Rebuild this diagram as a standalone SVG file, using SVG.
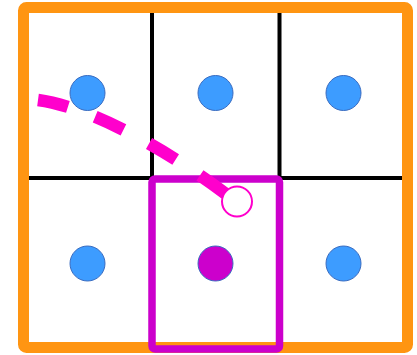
<svg xmlns="http://www.w3.org/2000/svg" width="417" height="355" viewBox="0 0 417 355">
<style>
.cell{fill:#fff}
.grid{stroke:#000;stroke-width:4;fill:none}
.dot{fill:#3d9cff;stroke:#3a6cc0;stroke-width:1}
</style>
<rect width="417" height="355" fill="#fff"/>
<g id="frame">
<rect x="23.5" y="7.5" width="384" height="340" rx="3" fill="#fff" stroke="#ff9512" stroke-width="11"/>
</g>
<g id="grid">
<line class="grid" x1="152" y1="13" x2="152" y2="178"/>
<line class="grid" x1="279.5" y1="13" x2="279.5" y2="178"/>
<line class="grid" x1="29" y1="178" x2="402" y2="178"/>
</g>
<g id="n1"><circle class="dot" cx="87.5" cy="93" r="17.5"/></g>
<g id="n2"><circle class="dot" cx="215.5" cy="93" r="17.5"/></g>
<g id="n3"><circle class="dot" cx="343.5" cy="93" r="17.5"/></g>
<g id="n4"><circle class="dot" cx="87.5" cy="263.5" r="17.5"/></g>
<g id="n6"><circle class="dot" cx="343.5" cy="263.5" r="17.5"/></g>
<g id="highlight">
<rect x="152" y="179" width="127.5" height="170" rx="3" fill="none" stroke="#cc00cc" stroke-width="7.5"/>
</g>
<g id="n5"><circle cx="215.5" cy="263.5" r="17.5" fill="#cc00cc" stroke="#3a6cc0" stroke-width="1"/></g>
<g id="connectors">
<path d="M38,100 C90,107 165,148 230,197" fill="none" stroke="#ff00cc" stroke-width="12.5" stroke-dasharray="31 29"/>
</g>
<g id="target"><circle cx="237" cy="201.5" r="15" fill="#fff" stroke="#ff00cc" stroke-width="2"/></g>
</svg>
